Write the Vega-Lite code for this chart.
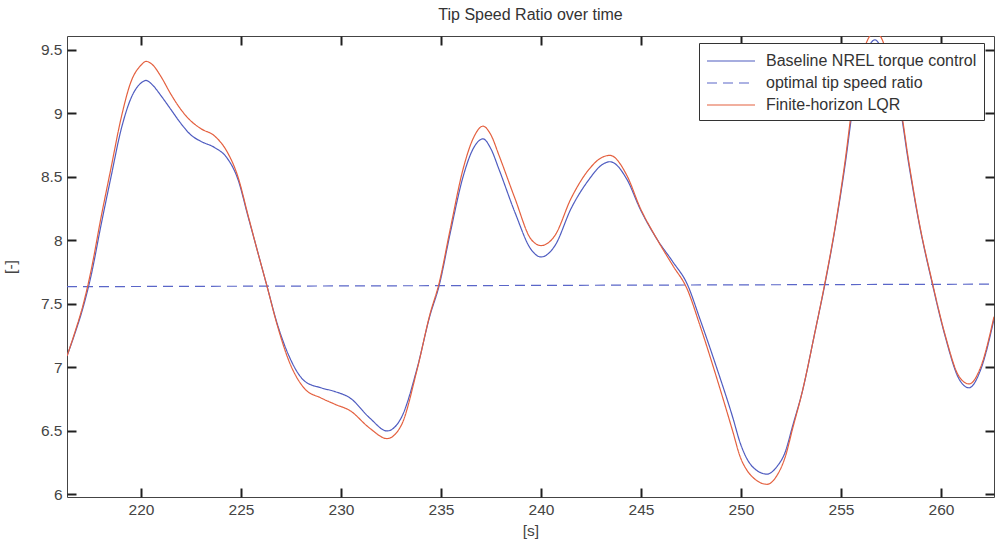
{
  "$schema": "https://vega.github.io/schema/vega-lite/v6.json",
  "width": 927,
  "height": 461,
  "autosize": {"type": "none"},
  "padding": {"left": 67, "top": 36, "right": 1, "bottom": 46},
  "background": "white",
  "title": {"text": "Tip Speed Ratio over time", "fontSize": 16, "fontWeight": "normal", "font": "Liberation Sans", "color": "#333", "offset": 9},
  "config": {
    "view": {"stroke": "#444", "strokeWidth": 1},
    "font": "Liberation Sans",
    "axis": {"grid": false, "domain": false, "ticks": true, "tickColor": "#202020", "tickWidth": 2, "tickOpacity": 1, "tickRound": true, "labelColor": "#444", "titleColor": "#444", "labelFont": "Liberation Sans", "titleFont": "Liberation Sans", "labelFontSize": 15.5, "titleFontSize": 15.5, "titleFontWeight": "normal", "tickSize": 9, "offset": -9, "labelPadding": 5, "zindex": 2}
  },
  "datasets": {
    "tsr": [
      {"t": 216.3, "v": 7.09, "s": "Baseline NREL torque control"},
      {"t": 216.7, "v": 7.27, "s": "Baseline NREL torque control"},
      {"t": 217.1, "v": 7.47, "s": "Baseline NREL torque control"},
      {"t": 217.5, "v": 7.72, "s": "Baseline NREL torque control"},
      {"t": 218.0, "v": 8.12, "s": "Baseline NREL torque control"},
      {"t": 218.5, "v": 8.50, "s": "Baseline NREL torque control"},
      {"t": 219.0, "v": 8.87, "s": "Baseline NREL torque control"},
      {"t": 219.5, "v": 9.12, "s": "Baseline NREL torque control"},
      {"t": 220.0, "v": 9.24, "s": "Baseline NREL torque control"},
      {"t": 220.25, "v": 9.26, "s": "Baseline NREL torque control"},
      {"t": 220.6, "v": 9.22, "s": "Baseline NREL torque control"},
      {"t": 221.0, "v": 9.14, "s": "Baseline NREL torque control"},
      {"t": 221.5, "v": 9.03, "s": "Baseline NREL torque control"},
      {"t": 222.0, "v": 8.92, "s": "Baseline NREL torque control"},
      {"t": 222.5, "v": 8.83, "s": "Baseline NREL torque control"},
      {"t": 223.0, "v": 8.78, "s": "Baseline NREL torque control"},
      {"t": 223.7, "v": 8.73, "s": "Baseline NREL torque control"},
      {"t": 224.3, "v": 8.65, "s": "Baseline NREL torque control"},
      {"t": 224.85, "v": 8.48, "s": "Baseline NREL torque control"},
      {"t": 225.35, "v": 8.19, "s": "Baseline NREL torque control"},
      {"t": 225.8, "v": 7.93, "s": "Baseline NREL torque control"},
      {"t": 226.3, "v": 7.64, "s": "Baseline NREL torque control"},
      {"t": 226.8, "v": 7.35, "s": "Baseline NREL torque control"},
      {"t": 227.4, "v": 7.09, "s": "Baseline NREL torque control"},
      {"t": 228.2, "v": 6.89, "s": "Baseline NREL torque control"},
      {"t": 229.0, "v": 6.84, "s": "Baseline NREL torque control"},
      {"t": 229.7, "v": 6.81, "s": "Baseline NREL torque control"},
      {"t": 230.45, "v": 6.76, "s": "Baseline NREL torque control"},
      {"t": 231.45, "v": 6.60, "s": "Baseline NREL torque control"},
      {"t": 232.3, "v": 6.50, "s": "Baseline NREL torque control"},
      {"t": 233.0, "v": 6.60, "s": "Baseline NREL torque control"},
      {"t": 233.8, "v": 6.99, "s": "Baseline NREL torque control"},
      {"t": 234.45, "v": 7.41, "s": "Baseline NREL torque control"},
      {"t": 234.9, "v": 7.64, "s": "Baseline NREL torque control"},
      {"t": 235.45, "v": 8.05, "s": "Baseline NREL torque control"},
      {"t": 236.1, "v": 8.50, "s": "Baseline NREL torque control"},
      {"t": 236.6, "v": 8.72, "s": "Baseline NREL torque control"},
      {"t": 237.1, "v": 8.80, "s": "Baseline NREL torque control"},
      {"t": 237.5, "v": 8.72, "s": "Baseline NREL torque control"},
      {"t": 237.9, "v": 8.56, "s": "Baseline NREL torque control"},
      {"t": 238.7, "v": 8.22, "s": "Baseline NREL torque control"},
      {"t": 239.5, "v": 7.93, "s": "Baseline NREL torque control"},
      {"t": 240.0, "v": 7.87, "s": "Baseline NREL torque control"},
      {"t": 240.7, "v": 7.96, "s": "Baseline NREL torque control"},
      {"t": 241.5, "v": 8.25, "s": "Baseline NREL torque control"},
      {"t": 242.4, "v": 8.48, "s": "Baseline NREL torque control"},
      {"t": 243.0, "v": 8.59, "s": "Baseline NREL torque control"},
      {"t": 243.45, "v": 8.62, "s": "Baseline NREL torque control"},
      {"t": 244.3, "v": 8.48, "s": "Baseline NREL torque control"},
      {"t": 244.95, "v": 8.25, "s": "Baseline NREL torque control"},
      {"t": 245.8, "v": 8.01, "s": "Baseline NREL torque control"},
      {"t": 246.6, "v": 7.83, "s": "Baseline NREL torque control"},
      {"t": 247.3, "v": 7.66, "s": "Baseline NREL torque control"},
      {"t": 247.95, "v": 7.38, "s": "Baseline NREL torque control"},
      {"t": 248.8, "v": 6.99, "s": "Baseline NREL torque control"},
      {"t": 249.6, "v": 6.60, "s": "Baseline NREL torque control"},
      {"t": 249.95, "v": 6.41, "s": "Baseline NREL torque control"},
      {"t": 250.3, "v": 6.28, "s": "Baseline NREL torque control"},
      {"t": 250.7, "v": 6.20, "s": "Baseline NREL torque control"},
      {"t": 251.3, "v": 6.16, "s": "Baseline NREL torque control"},
      {"t": 251.8, "v": 6.22, "s": "Baseline NREL torque control"},
      {"t": 252.2, "v": 6.33, "s": "Baseline NREL torque control"},
      {"t": 252.6, "v": 6.55, "s": "Baseline NREL torque control"},
      {"t": 253.05, "v": 6.80, "s": "Baseline NREL torque control"},
      {"t": 253.7, "v": 7.28, "s": "Baseline NREL torque control"},
      {"t": 254.2, "v": 7.66, "s": "Baseline NREL torque control"},
      {"t": 254.7, "v": 8.09, "s": "Baseline NREL torque control"},
      {"t": 255.2, "v": 8.59, "s": "Baseline NREL torque control"},
      {"t": 255.6, "v": 9.05, "s": "Baseline NREL torque control"},
      {"t": 256.0, "v": 9.35, "s": "Baseline NREL torque control"},
      {"t": 256.4, "v": 9.53, "s": "Baseline NREL torque control"},
      {"t": 256.7, "v": 9.58, "s": "Baseline NREL torque control"},
      {"t": 257.0, "v": 9.52, "s": "Baseline NREL torque control"},
      {"t": 257.5, "v": 9.30, "s": "Baseline NREL torque control"},
      {"t": 257.9, "v": 9.09, "s": "Baseline NREL torque control"},
      {"t": 258.4, "v": 8.59, "s": "Baseline NREL torque control"},
      {"t": 258.9, "v": 8.14, "s": "Baseline NREL torque control"},
      {"t": 259.55, "v": 7.67, "s": "Baseline NREL torque control"},
      {"t": 260.2, "v": 7.25, "s": "Baseline NREL torque control"},
      {"t": 260.9, "v": 6.91, "s": "Baseline NREL torque control"},
      {"t": 261.4, "v": 6.84, "s": "Baseline NREL torque control"},
      {"t": 262.0, "v": 6.99, "s": "Baseline NREL torque control"},
      {"t": 262.65, "v": 7.38, "s": "Baseline NREL torque control"},

      {"t": 216.3, "v": 7.636, "s": "optimal tip speed ratio"},
      {"t": 262.65, "v": 7.656, "s": "optimal tip speed ratio"},

      {"t": 216.3, "v": 7.09, "s": "Finite-horizon LQR"},
      {"t": 216.7, "v": 7.28, "s": "Finite-horizon LQR"},
      {"t": 217.1, "v": 7.49, "s": "Finite-horizon LQR"},
      {"t": 217.5, "v": 7.76, "s": "Finite-horizon LQR"},
      {"t": 218.0, "v": 8.18, "s": "Finite-horizon LQR"},
      {"t": 218.5, "v": 8.57, "s": "Finite-horizon LQR"},
      {"t": 219.0, "v": 8.96, "s": "Finite-horizon LQR"},
      {"t": 219.5, "v": 9.25, "s": "Finite-horizon LQR"},
      {"t": 220.0, "v": 9.38, "s": "Finite-horizon LQR"},
      {"t": 220.25, "v": 9.41, "s": "Finite-horizon LQR"},
      {"t": 220.6, "v": 9.38, "s": "Finite-horizon LQR"},
      {"t": 221.0, "v": 9.29, "s": "Finite-horizon LQR"},
      {"t": 221.5, "v": 9.15, "s": "Finite-horizon LQR"},
      {"t": 222.0, "v": 9.03, "s": "Finite-horizon LQR"},
      {"t": 222.5, "v": 8.94, "s": "Finite-horizon LQR"},
      {"t": 223.0, "v": 8.88, "s": "Finite-horizon LQR"},
      {"t": 223.7, "v": 8.82, "s": "Finite-horizon LQR"},
      {"t": 224.3, "v": 8.70, "s": "Finite-horizon LQR"},
      {"t": 224.85, "v": 8.50, "s": "Finite-horizon LQR"},
      {"t": 225.35, "v": 8.20, "s": "Finite-horizon LQR"},
      {"t": 225.8, "v": 7.93, "s": "Finite-horizon LQR"},
      {"t": 226.3, "v": 7.64, "s": "Finite-horizon LQR"},
      {"t": 226.8, "v": 7.34, "s": "Finite-horizon LQR"},
      {"t": 227.4, "v": 7.05, "s": "Finite-horizon LQR"},
      {"t": 228.2, "v": 6.83, "s": "Finite-horizon LQR"},
      {"t": 229.0, "v": 6.76, "s": "Finite-horizon LQR"},
      {"t": 229.7, "v": 6.71, "s": "Finite-horizon LQR"},
      {"t": 230.45, "v": 6.66, "s": "Finite-horizon LQR"},
      {"t": 231.45, "v": 6.52, "s": "Finite-horizon LQR"},
      {"t": 232.3, "v": 6.44, "s": "Finite-horizon LQR"},
      {"t": 233.0, "v": 6.54, "s": "Finite-horizon LQR"},
      {"t": 233.8, "v": 6.98, "s": "Finite-horizon LQR"},
      {"t": 234.45, "v": 7.42, "s": "Finite-horizon LQR"},
      {"t": 234.9, "v": 7.66, "s": "Finite-horizon LQR"},
      {"t": 235.45, "v": 8.08, "s": "Finite-horizon LQR"},
      {"t": 236.1, "v": 8.56, "s": "Finite-horizon LQR"},
      {"t": 236.6, "v": 8.80, "s": "Finite-horizon LQR"},
      {"t": 237.1, "v": 8.90, "s": "Finite-horizon LQR"},
      {"t": 237.5, "v": 8.83, "s": "Finite-horizon LQR"},
      {"t": 237.9, "v": 8.67, "s": "Finite-horizon LQR"},
      {"t": 238.7, "v": 8.33, "s": "Finite-horizon LQR"},
      {"t": 239.5, "v": 8.01, "s": "Finite-horizon LQR"},
      {"t": 240.0, "v": 7.96, "s": "Finite-horizon LQR"},
      {"t": 240.7, "v": 8.04, "s": "Finite-horizon LQR"},
      {"t": 241.5, "v": 8.33, "s": "Finite-horizon LQR"},
      {"t": 242.4, "v": 8.56, "s": "Finite-horizon LQR"},
      {"t": 243.0, "v": 8.65, "s": "Finite-horizon LQR"},
      {"t": 243.45, "v": 8.67, "s": "Finite-horizon LQR"},
      {"t": 244.3, "v": 8.51, "s": "Finite-horizon LQR"},
      {"t": 244.95, "v": 8.26, "s": "Finite-horizon LQR"},
      {"t": 245.8, "v": 8.01, "s": "Finite-horizon LQR"},
      {"t": 246.6, "v": 7.80, "s": "Finite-horizon LQR"},
      {"t": 247.3, "v": 7.62, "s": "Finite-horizon LQR"},
      {"t": 247.95, "v": 7.33, "s": "Finite-horizon LQR"},
      {"t": 248.8, "v": 6.91, "s": "Finite-horizon LQR"},
      {"t": 249.6, "v": 6.49, "s": "Finite-horizon LQR"},
      {"t": 249.95, "v": 6.30, "s": "Finite-horizon LQR"},
      {"t": 250.3, "v": 6.19, "s": "Finite-horizon LQR"},
      {"t": 250.7, "v": 6.12, "s": "Finite-horizon LQR"},
      {"t": 251.3, "v": 6.08, "s": "Finite-horizon LQR"},
      {"t": 251.8, "v": 6.15, "s": "Finite-horizon LQR"},
      {"t": 252.2, "v": 6.29, "s": "Finite-horizon LQR"},
      {"t": 252.6, "v": 6.53, "s": "Finite-horizon LQR"},
      {"t": 253.05, "v": 6.80, "s": "Finite-horizon LQR"},
      {"t": 253.7, "v": 7.28, "s": "Finite-horizon LQR"},
      {"t": 254.2, "v": 7.67, "s": "Finite-horizon LQR"},
      {"t": 254.7, "v": 8.10, "s": "Finite-horizon LQR"},
      {"t": 255.2, "v": 8.62, "s": "Finite-horizon LQR"},
      {"t": 255.6, "v": 9.10, "s": "Finite-horizon LQR"},
      {"t": 256.0, "v": 9.42, "s": "Finite-horizon LQR"},
      {"t": 256.4, "v": 9.60, "s": "Finite-horizon LQR"},
      {"t": 256.7, "v": 9.64, "s": "Finite-horizon LQR"},
      {"t": 257.0, "v": 9.60, "s": "Finite-horizon LQR"},
      {"t": 257.5, "v": 9.35, "s": "Finite-horizon LQR"},
      {"t": 257.9, "v": 9.12, "s": "Finite-horizon LQR"},
      {"t": 258.4, "v": 8.61, "s": "Finite-horizon LQR"},
      {"t": 258.9, "v": 8.15, "s": "Finite-horizon LQR"},
      {"t": 259.55, "v": 7.68, "s": "Finite-horizon LQR"},
      {"t": 260.2, "v": 7.26, "s": "Finite-horizon LQR"},
      {"t": 260.9, "v": 6.93, "s": "Finite-horizon LQR"},
      {"t": 261.4, "v": 6.87, "s": "Finite-horizon LQR"},
      {"t": 262.0, "v": 7.01, "s": "Finite-horizon LQR"},
      {"t": 262.65, "v": 7.40, "s": "Finite-horizon LQR"}
    ]
  },
  "data": {"name": "tsr"},
  "layer": [
    {
      "mark": {"type": "line", "clip": true, "strokeWidth": 1.2, "interpolate": "monotone"},
      "encoding": {
        "x": {"field": "t", "type": "quantitative", "scale": {"domain": [216.3, 262.65], "nice": false, "zero": false},
              "axis": {"title": "[s]", "values": [220, 225, 230, 235, 240, 245, 250, 255, 260], "titlePadding": 6}},
        "y": {"field": "v", "type": "quantitative", "scale": {"domain": [5.98, 9.61], "nice": false, "zero": false},
              "axis": {"title": "[-]", "values": [6, 6.5, 7, 7.5, 8, 8.5, 9, 9.5], "format": "~g", "titlePadding": 22}},
        "color": {"field": "s", "type": "nominal",
                  "scale": {"domain": ["Baseline NREL torque control", "optimal tip speed ratio", "Finite-horizon LQR"], "range": ["#4f5cc0", "#5a66c8", "#e4603f"]},
                  "legend": {"title": null, "orient": "none", "legendX": 632, "legendY": 7, "strokeColor": "#333", "fillColor": "white", "padding": 7, "symbolType": "M-2.4,0H2.4", "symbolSize": 400, "symbolOffset": 14, "symbolStrokeWidth": 1.2, "labelFont": "Liberation Sans", "labelFontSize": 16, "labelColor": "#333", "labelOffset": 24, "rowPadding": 3, "labelLimit": 400}},
        "strokeDash": {"field": "s", "type": "nominal",
                  "scale": {"domain": ["Baseline NREL torque control", "optimal tip speed ratio", "Finite-horizon LQR"], "range": [[1, 0], [10, 6], [1, 0]]},
                  "legend": null},
        "order": {"field": "t", "type": "quantitative"}
      }
    },
    {
      "mark": {"type": "line", "opacity": 0},
      "encoding": {
        "x": {"field": "t", "type": "quantitative", "axis": {"orient": "top", "labels": false, "title": null, "values": [220, 225, 230, 235, 240, 245, 250, 255, 260]}},
        "y": {"field": "v", "type": "quantitative", "axis": {"orient": "right", "labels": false, "title": null, "values": [6, 6.5, 7, 7.5, 8, 8.5, 9, 9.5]}},
        "detail": {"field": "s"}
      }
    }
  ],
  "resolve": {"axis": {"x": "independent", "y": "independent"}}
}
